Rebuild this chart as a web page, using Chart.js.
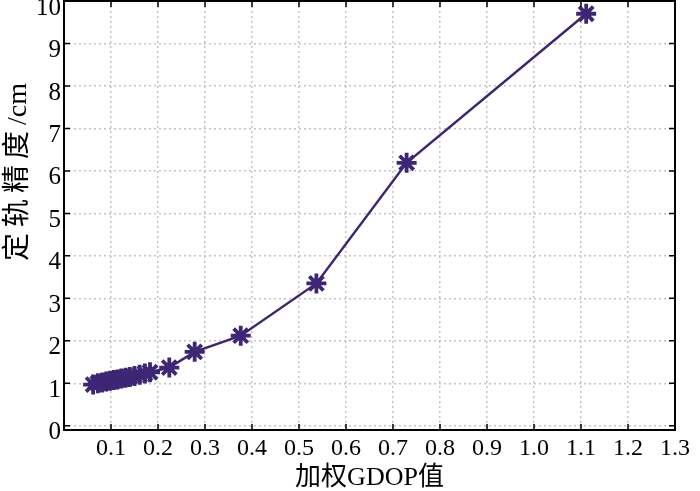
<!DOCTYPE html>
<html>
<head>
<meta charset="utf-8">
<script src="https://cdn.jsdelivr.net/npm/chart.js@4"></script>
<style>
  html, body { margin: 0; padding: 0; background: #fff; }
  #wrap { width: 700px; height: 491px; position: relative; }
</style>
</head>
<body>
<div id="wrap"><canvas id="orbitChart"></canvas></div>
<script>
// weighted GDOP vs orbit accuracy (cm)
const gdop = [0.062, 0.072, 0.081, 0.090, 0.098, 0.106, 0.114, 0.122, 0.131, 0.140,
              0.150, 0.161, 0.172, 0.183, 0.224, 0.278, 0.376, 0.537, 0.729, 1.111];
const accuracy = [0.97, 1.00, 1.02, 1.04, 1.06, 1.08, 1.09, 1.11, 1.13, 1.15,
                  1.17, 1.20, 1.23, 1.26, 1.37, 1.74, 2.12, 3.35, 6.19, 9.70];

const xTickLabels = ['0.1', '0.2', '0.3', '0.4', '0.5', '0.6', '0.7', '0.8', '0.9', '1.0', '1.1', '1.2', '1.3'];
const yTickLabels = ['0', '1', '2', '3', '4', '5', '6', '7', '8', '9', '10'];

const xTitle = '加权GDOP值';
const yTitleCjk = '定轨精度';
const yTitleUnit = '/cm';

const lineColor = '#3d2674';
const serif = '"Liberation Serif", "Noto Sans CJK SC", serif';

// box around the plot + inward tick marks + rotated y title
const framePlugin = {
  id: 'frame',
  afterDraw(chart) {
    const { ctx, chartArea: a, scales } = chart;
    ctx.save();
    ctx.strokeStyle = '#000';
    ctx.lineWidth = 2;
    ctx.strokeRect(a.left, a.top, a.right - a.left, a.bottom - a.top);

    const tl = 6;
    ctx.lineWidth = 1.5;
    ctx.beginPath();
    scales.x.ticks.forEach(t => {
      const px = scales.x.getPixelForValue(t.value);
      ctx.moveTo(px, a.bottom); ctx.lineTo(px, a.bottom - tl);
      ctx.moveTo(px, a.top); ctx.lineTo(px, a.top + tl);
    });
    scales.y.ticks.forEach(t => {
      const py = scales.y.getPixelForValue(t.value);
      ctx.moveTo(a.left, py); ctx.lineTo(a.left + tl, py);
      ctx.moveTo(a.right, py); ctx.lineTo(a.right - tl, py);
    });
    ctx.stroke();

    // y title: CJK part spaced out, unit part normal
    ctx.translate(19, 172);
    ctx.rotate(-Math.PI / 2);
    ctx.fillStyle = '#000';
    ctx.font = '28px ' + serif;
    ctx.textAlign = 'left';
    ctx.textBaseline = 'middle';
    const hasLs = 'letterSpacing' in ctx;
    if (hasLs) ctx.letterSpacing = '6px';
    const w1 = ctx.measureText(yTitleCjk).width;
    if (hasLs) ctx.letterSpacing = '0px';
    const w2 = ctx.measureText(yTitleUnit).width;
    const x0 = -(w1 + w2) / 2;
    if (hasLs) ctx.letterSpacing = '6px';
    ctx.fillText(yTitleCjk, x0, 0);
    if (hasLs) ctx.letterSpacing = '0px';
    ctx.fillText(yTitleUnit, x0 + w1, 0);
    ctx.restore();
  }
};

const ctx = document.getElementById('orbitChart').getContext('2d');
new Chart(ctx, {
  type: 'line',
  data: {
    datasets: [{
      data: gdop.map((x, i) => ({ x: x, y: accuracy[i] })),
      borderColor: lineColor,
      backgroundColor: lineColor,
      borderWidth: 2.5,
      pointStyle: 'star',
      pointRadius: 10,
      pointBorderWidth: 3.8,
      pointBorderColor: lineColor,
      fill: false,
      tension: 0,
      clip: false
    }]
  },
  options: {
    responsive: true,
    maintainAspectRatio: false,
    animation: false,
    layout: { autoPadding: false, padding: { top: 1, right: 25, left: 0, bottom: 0 } },
    plugins: {
      legend: { display: false },
      tooltip: { enabled: false }
    },
    scales: {
      x: {
        type: 'linear',
        min: 0,
        max: 1.3,
        afterBuildTicks: s => { s.ticks = xTickLabels.map(l => ({ value: parseFloat(l) })); },
        afterFit: s => { s.height = 61; s.paddingLeft = 0; s.paddingRight = 0; },
        ticks: {
          callback: v => v.toFixed(1),
          color: '#000',
          font: { family: serif, size: 24 },
          padding: 4,
          maxRotation: 0,
          autoSkip: false
        },
        grid: { color: '#c4c4c4', lineWidth: 1.5, drawTicks: false },
        border: { display: false, dash: [2, 3] },
        title: {
          display: true,
          text: xTitle,
          color: '#000',
          font: { family: serif, size: 26, lineHeight: 1 },
          padding: { top: 0, bottom: 0 }
        }
      },
      y: {
        type: 'linear',
        min: -0.1,
        max: 10,
        afterBuildTicks: s => { s.ticks = yTickLabels.map(l => ({ value: parseFloat(l) })); },
        afterFit: s => { s.width = 64; s.paddingTop = 0; s.paddingBottom = 0; },
        ticks: {
          callback: v => String(v),
          color: '#000',
          font: { family: serif, size: 25, lineHeight: 0.05 },
          padding: 3,
          labelOffset: 7,
          autoSkip: false
        },
        grid: { color: '#c4c4c4', lineWidth: 1.5, drawTicks: false },
        border: { display: false, dash: [2, 3] }
      }
    }
  },
  plugins: [framePlugin]
});
</script>
</body>
</html>
